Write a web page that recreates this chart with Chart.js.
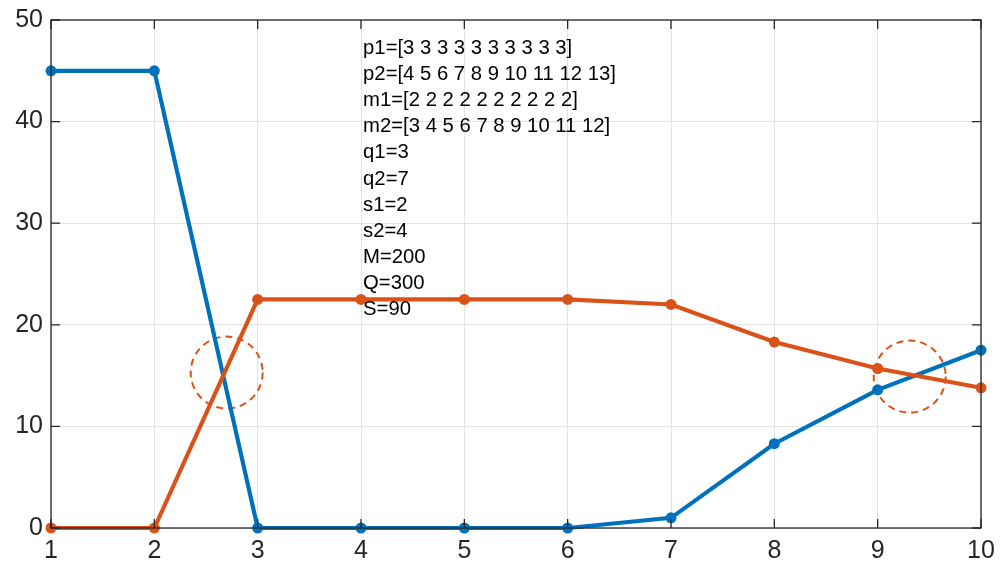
<!DOCTYPE html>
<html>
<head>
<meta charset="utf-8">
<script src="https://cdn.jsdelivr.net/npm/chart.js@4/dist/chart.umd.min.js"></script>
<style>
  html, body { margin: 0; padding: 0; background: #fff; }
  #wrap { width: 1003px; height: 564px; }
</style>
</head>
<body>
<div id="wrap"><canvas id="chart"></canvas></div>
<script>
// ---- data ----
const xValues = [1, 2, 3, 4, 5, 6, 7, 8, 9, 10];
const blueValues = [45, 45, 0, 0, 0, 0, 1, 8.3, 13.6, 17.5];
const orangeValues = [0, 0, 22.5, 22.5, 22.5, 22.5, 22, 18.3, 15.7, 13.8];

// dashed circles marking the crossings (centre in data units)
const circleCentres = [{ x: 2.7, y: 15.3 }, { x: 9.31, y: 14.9 }];

// parameter note written inside the plot
const noteLines = [
  "p1=[3 3 3 3 3 3 3 3 3 3]",
  "p2=[4 5 6 7 8 9 10 11 12 13]",
  "m1=[2 2 2 2 2 2 2 2 2 2]",
  "m2=[3 4 5 6 7 8 9 10 11 12]",
  "q1=3",
  "q2=7",
  "s1=2",
  "s2=4",
  "M=200",
  "Q=300",
  "S=90",
];
const noteAnchor = { x: 4.02, y: 47.2 };

const BLUE = "#0072BD";
const ORANGE = "#D95319";
const AXIS = "#262626";
const FONT = "'Liberation Sans', Arial, sans-serif";

// ---- helpers ----
const toPoints = (ys) => ys.map((y, i) => ({ x: xValues[i], y: y }));

/* --------------- extras: circles, note, box with inner ticks --------------------- */
const extrasPlugin = {
  id: "extras",
  beforeDatasetsDraw(chart) {
    const { ctx, scales } = chart;
    ctx.save();
    ctx.strokeStyle = ORANGE;
    ctx.lineWidth = 2;
    ctx.setLineDash([7, 5]);
    for (const c of circleCentres) {
      ctx.beginPath();
      ctx.arc(scales.x.getPixelForValue(c.x), scales.y.getPixelForValue(c.y), 36, 0, Math.PI * 2);
      ctx.stroke();
    }
    ctx.restore();
  },
  afterDraw(chart) {
    const { ctx, scales, chartArea: a } = chart;
    ctx.save();

    // note text
    ctx.fillStyle = "#000";
    ctx.font = "20.3px " + FONT;
    ctx.textBaseline = "middle";
    ctx.textAlign = "left";
    const nx = scales.x.getPixelForValue(noteAnchor.x);
    const ny = scales.y.getPixelForValue(noteAnchor.y);
    noteLines.forEach((t, i) => ctx.fillText(t, nx, ny + i * 26.1));

    // box
    ctx.strokeStyle = AXIS;
    ctx.lineWidth = 1.3;
    ctx.strokeRect(a.left, a.top, a.right - a.left, a.bottom - a.top);

    // inner tick marks on all four sides
    const len = 9;
    ctx.beginPath();
    for (const t of scales.x.ticks) {
      const px = scales.x.getPixelForValue(t.value);
      ctx.moveTo(px, a.bottom); ctx.lineTo(px, a.bottom - len);
      ctx.moveTo(px, a.top); ctx.lineTo(px, a.top + len);
    }
    for (const t of scales.y.ticks) {
      const py = scales.y.getPixelForValue(t.value);
      ctx.moveTo(a.left, py); ctx.lineTo(a.left + len, py);
      ctx.moveTo(a.right, py); ctx.lineTo(a.right - len, py);
    }
    ctx.stroke();
    ctx.restore();
  },
};

/* --------------- Chart --------------------- */
new Chart(document.getElementById("chart"), {
  type: "line",
  plugins: [extrasPlugin],
  data: {
    datasets: [
      {
        data: toPoints(blueValues),
        borderColor: BLUE,
        backgroundColor: BLUE,
        borderWidth: 4.2,
        pointRadius: 5.5,
        pointBorderWidth: 0,
        clip: false,
        order: 1,
      },
      {
        data: toPoints(orangeValues),
        borderColor: ORANGE,
        backgroundColor: ORANGE,
        borderWidth: 4.2,
        pointRadius: 5.5,
        pointBorderWidth: 0,
        clip: false,
        order: 0,
      },
    ],
  },
  options: {
    responsive: true,
    maintainAspectRatio: false,
    animation: false,
    layout: { padding: { top: 20, right: 22, left: 0, bottom: 0 } },
    plugins: {
      legend: { display: false },
      tooltip: { enabled: false },
    },
    scales: {
      x: {
        type: "linear",
        min: 1,
        max: 10,
        ticks: {
          stepSize: 1,
          color: AXIS,
          font: { family: FONT, size: 25 },
          padding: 8,
          maxRotation: 0,
        },
        grid: { color: "#e3e3e3", lineWidth: 1, drawTicks: false },
        border: { display: false },
        afterFit: (scale) => {
          scale.height = 36;
          scale.paddingLeft = 0;
          scale.paddingRight = 0;
        },
      },
      y: {
        min: 0,
        max: 50,
        ticks: {
          stepSize: 10,
          color: AXIS,
          font: { family: FONT, size: 25 },
          padding: 8,
        },
        grid: { color: "#e3e3e3", lineWidth: 1, drawTicks: false },
        border: { display: false },
        afterFit: (scale) => {
          scale.width = 51;
          scale.paddingTop = 0;
          scale.paddingBottom = 0;
        },
      },
    },
  },
});
</script>
</body>
</html>
